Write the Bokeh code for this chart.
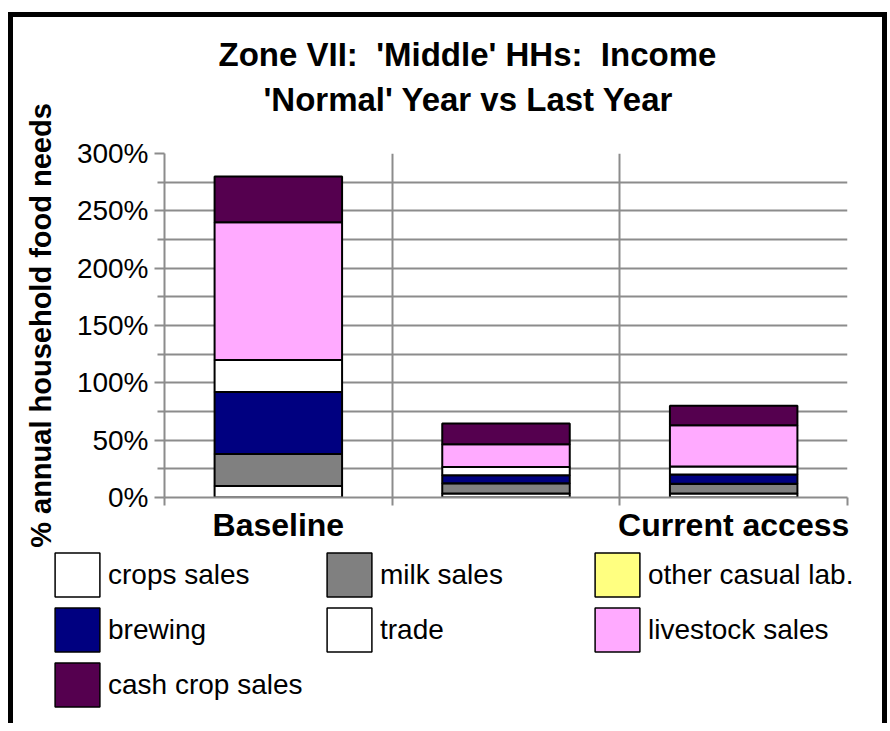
from bokeh.plotting import figure
from bokeh.layouts import column, row
from bokeh.models import (Range1d, FixedTicker, PrintfTickFormatter, Title,
                          Legend, LegendItem, ColumnDataSource)
from bokeh.embed import file_html
from bokeh.resources import INLINE

# ---- data (values in % of annual household food needs) ----
categories = ["Baseline", "", "Current access"]
crops_sales = [10, 3.5, 3.5]
milk_sales = [28, 9, 8.5]
other_casual_lab = [0, 0, 0]
brewing = [54, 7, 8]
trade = [28, 7, 7]
livestock_sales = [120, 20, 36]
cash_crop_sales = [40, 18, 17]

series_names = ["crops sales", "milk sales", "other casual lab.", "brewing",
                "trade", "livestock sales", "cash crop sales"]
series_values = [crops_sales, milk_sales, other_casual_lab, brewing,
                 trade, livestock_sales, cash_crop_sales]
series_colors = ["#FFFFFF", "#808080", "#FFFF80", "#000080",
                 "#FFFFFF", "#FFAAFF", "#55004F"]
y_ticks = [0, 50, 100, 150, 200, 250, 300]
y_minor = [25, 75, 125, 175, 225, 275]

FONT = "Liberation Sans"
GRID = "#8c8c8c"
NB = "\u00a0"

keys = ["s%d" % i for i in range(len(series_names))]
data = {"x": [i + 0.5 for i in range(len(categories))]}
for k, v in zip(keys, series_values):
    data[k] = v
src = ColumnDataSource(data)

p = figure(width=869, height=530, output_backend="svg", toolbar_location=None,
           x_range=Range1d(0, len(categories)), y_range=Range1d(0, 300),
           min_border_left=151, min_border_right=35, min_border_top=136,
           min_border_bottom=50, title=None)
p.outline_line_color = None
p.background_fill_color = "white"
p.border_fill_color = "white"

renderers = p.vbar_stack(keys, x="x", width=0.56, source=src,
                         fill_color=series_colors, line_color="black",
                         line_width=2)

# titles (added closest-first)
t2 = Title(text="'Normal' Year vs Last Year", align="left", offset=99,
           text_font=FONT, text_font_size="33px", text_font_style="bold",
           text_color="black", standoff=0,
           padding=dict(left=0, right=0, top=0, bottom=36))
t1 = Title(text="Zone VII:" + NB + " 'Middle' HHs:" + NB + " Income",
           align="left", offset=54,
           text_font=FONT, text_font_size="33px", text_font_style="bold",
           text_color="black", standoff=0,
           padding=dict(left=0, right=0, top=0, bottom=6))
p.add_layout(t2, "above")
p.add_layout(t1, "above")

# x axis
xt = FixedTicker(ticks=[i + 0.5 for i in range(len(categories))],
                 minor_ticks=list(range(len(categories) + 1)))
p.xaxis.ticker = xt
p.xaxis.major_label_overrides = {i + 0.5: c for i, c in enumerate(categories)}
p.xaxis.major_tick_out = 0
p.xaxis.major_tick_in = 0
p.xaxis.minor_tick_out = 8
p.xaxis.minor_tick_in = 0
p.xaxis.minor_tick_line_color = GRID
p.xaxis.minor_tick_line_width = 2
p.xaxis.axis_line_color = GRID
p.xaxis.axis_line_width = 2
p.xaxis.major_label_text_font = FONT
p.xaxis.major_label_text_font_size = "32px"
p.xaxis.major_label_text_font_style = "bold"
p.xaxis.major_label_text_color = "black"
p.xaxis.major_label_standoff = 1
p.xgrid.ticker = FixedTicker(ticks=list(range(len(categories) + 1)))
p.xgrid.grid_line_color = GRID
p.xgrid.grid_line_width = 2

# y axis
yt = FixedTicker(ticks=y_ticks, minor_ticks=y_minor)
p.yaxis.ticker = yt
p.yaxis.formatter = PrintfTickFormatter(format="%d%%")
p.yaxis.major_tick_out = 10
p.yaxis.major_tick_in = 0
p.yaxis.minor_tick_out = 7
p.yaxis.minor_tick_in = 0
p.yaxis.major_tick_line_color = GRID
p.yaxis.minor_tick_line_color = GRID
p.yaxis.major_tick_line_width = 2
p.yaxis.minor_tick_line_width = 2
p.yaxis.axis_line_color = GRID
p.yaxis.axis_line_width = 2
p.yaxis.major_label_text_font = FONT
p.yaxis.major_label_text_font_size = "28px"
p.yaxis.major_label_text_color = "black"
p.yaxis.major_label_standoff = 6
p.yaxis.axis_label = "% annual household food needs"
p.yaxis.axis_label_text_font = FONT
p.yaxis.axis_label_text_font_size = "29px"
p.yaxis.axis_label_text_font_style = "bold"
p.yaxis.axis_label_text_color = "black"
p.yaxis.axis_label_standoff = 17
p.ygrid.ticker = yt
p.ygrid.grid_line_color = GRID
p.ygrid.grid_line_width = 2
p.ygrid.minor_grid_line_color = GRID
p.ygrid.minor_grid_line_width = 2

# ---- legend strip below the chart ----
LEG_H = 176
pl = figure(width=869, height=LEG_H, output_backend="svg",
            toolbar_location=None,
            x_range=Range1d(0, 1), y_range=Range1d(0, 1),
            x_axis_type=None, y_axis_type=None, min_border=0,
            min_border_left=0, min_border_right=0, title=None)
pl.outline_line_color = None
pl.xgrid.visible = False
pl.ygrid.visible = False
pl.background_fill_color = "white"
pl.border_fill_color = "white"
leg_renderers = pl.vbar_stack(keys, x="x", width=0.56, source=src,
                              fill_color=series_colors, line_color="black",
                              line_width=1.5)
for r in leg_renderers:
    r.visible = False

cols = [[0, 3, 6], [1, 4], [2, 5]]
col_x = [36, 308, 576]
for idxs, lx in zip(cols, col_x):
    items = [LegendItem(label=series_names[i], renderers=[leg_renderers[i]])
             for i in idxs]
    h = len(idxs) * 55
    lg = Legend(items=items, location=(lx, LEG_H - h),
                orientation="vertical", glyph_width=56, glyph_height=55,
                label_standoff=3, spacing=0, padding=0, margin=0,
                border_line_alpha=0, background_fill_alpha=0,
                inactive_fill_alpha=0,
                label_text_font=FONT, label_text_font_size="28px",
                label_text_color="black")
    pl.add_layout(lg)

lay = column(p, row(pl), spacing=0)
lay.styles = {"border-top": "5px solid black", "border-left": "5px solid black",
              "border-right": "5px solid black", "margin-top": "12px",
              "margin-left": "8px"}

open("out.html", "w").write(file_html(lay, INLINE))
